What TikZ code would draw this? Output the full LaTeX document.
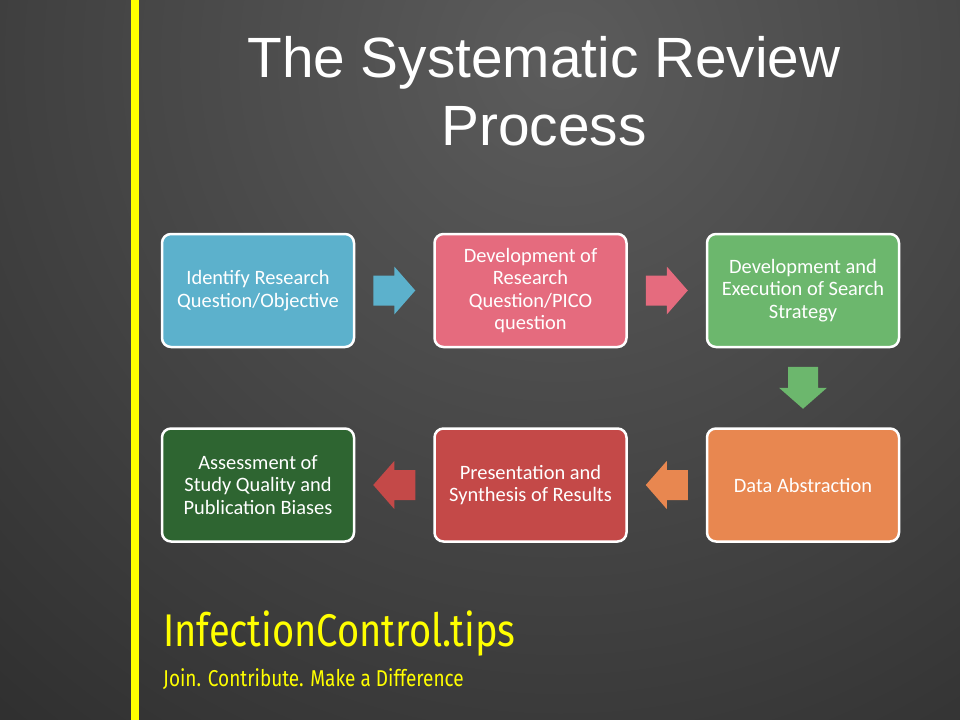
\documentclass[tikz,border=0pt]{standalone}
\usepackage{fontspec}
\setmainfont{Carlito}
\newfontfamily\titlefont{Liberation Sans}
\newfontfamily\brandfont[FakeStretch=0.83]{Fira Sans}
\usetikzlibrary{calc}
\definecolor{bgtop}{RGB}{92,92,92}
\definecolor{bgbot}{RGB}{33,33,33}
\definecolor{boxblue}{RGB}{92,177,204}
\definecolor{boxpink}{RGB}{229,107,126}
\definecolor{boxgreen}{RGB}{108,183,109}
\definecolor{boxdark}{RGB}{46,101,49}
\definecolor{boxred}{RGB}{196,73,72}
\definecolor{boxorange}{RGB}{232,135,80}
\definecolor{brand}{RGB}{255,255,0}

\begin{document}
\begin{tikzpicture}[x=1bp,y=-1bp,
      box/.style={draw=white,line width=2.5bp,rounded corners=9bp,text=white,align=center,
        minimum width=192bp,minimum height=113bp,inner sep=2bp,font=\fontsize{20.5}{22.7}\selectfont},
      flowarrow/.pic={\fill (-21,-15) -- (0,-15) -- (0,-24) -- (21,0) -- (0,24) -- (0,15) -- (-21,15) -- cycle;}]
    \useasboundingbox (0,0) rectangle (960,720);
    \begin{scope}
      \clip (0,0) rectangle (960,720);
      \shade[inner color=bgtop,outer color=bgbot] (560,60) circle (1150bp);
    \end{scope}
    \fill[brand] (131,0) rectangle (139,720);
    \node[anchor=north,inner sep=0,text=white,align=center,
      font=\titlefont\fontsize{57}{68}\selectfont] (title) at (544,36) {The Systematic Review\\Process};
    \node[box,fill=boxblue] (ident) at (258,290.5) {Identify Research\\Question/Objective};
    \node[box,fill=boxpink] (pico) at (530.5,290.5) {Development of\\Research\\Question/PICO\\question};
    \node[box,fill=boxgreen] (search) at (803,290.5) {Development and\\Execution of Search\\Strategy};
    \node[box,fill=boxorange] (abstr) at (803,485) {Data Abstraction};
    \node[box,fill=boxred] (synth) at (530.5,485) {Presentation and\\Synthesis of Results};
    \node[box,fill=boxdark] (assess) at (258,485) {Assessment of\\Study Quality and\\Publication Biases};
    \pic[fill=boxblue] at ($(ident.east)!0.5!(pico.west)$) {flowarrow};
    \pic[fill=boxpink] at ($(pico.east)!0.5!(search.west)$) {flowarrow};
    \pic[fill=boxgreen,rotate=-90] at ($(search.south)!0.5!(abstr.north)$) {flowarrow};
    \pic[fill=boxorange,rotate=180] at ($(abstr.west)!0.5!(synth.east)$) {flowarrow};
    \pic[fill=boxred,rotate=180] at ($(synth.west)!0.5!(assess.east)$) {flowarrow};
    \node[anchor=base west,inner sep=0,text=brand,font=\brandfont\fontsize{46}{50}\selectfont] (site) at (163,646) {InfectionControl.tips};
    \node[anchor=base west,inner sep=0,text=brand,font=\brandfont\fontsize{23}{26}\selectfont] (motto) at (163,686) {Join. Contribute. Make a Difference};
  \end{tikzpicture}
\end{document}
